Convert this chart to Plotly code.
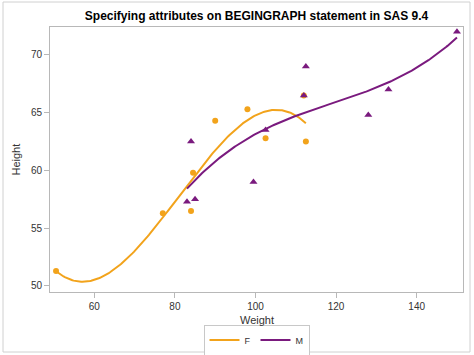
import numpy as np
import plotly.graph_objects as go

# SASHELP.CLASS data
f_weight = [84.0, 98.0, 102.5, 84.5, 112.5, 50.5, 90.0, 77.0, 112.0]
f_height = [56.5, 65.3, 62.8, 59.8, 62.5, 51.3, 64.3, 56.3, 66.5]
m_weight = [112.5, 102.5, 83.0, 84.0, 99.5, 150.0, 128.0, 133.0, 85.0, 112.0]
m_height = [69.0, 63.5, 57.3, 62.5, 59.0, 72.0, 64.8, 67.0, 57.5, 66.5]

x_ticks = [60, 80, 100, 120, 140]
y_ticks = [50, 55, 60, 65, 70]

ORANGE = "#F2A31B"
PURPLE = "#7A1A7E"


def cubic_fit(x, y):
    coef = np.polyfit(x, y, 3)
    xs = np.linspace(min(x), max(x), 200)
    return xs, np.polyval(coef, xs)


fig = go.Figure()

fx, fy = cubic_fit(f_weight, f_height)
mx, my = cubic_fit(m_weight, m_height)

fig.add_trace(go.Scatter(x=fx, y=fy, mode="lines", name="F",
                         line=dict(color=ORANGE, width=2)))
fig.add_trace(go.Scatter(x=mx, y=my, mode="lines", name="M",
                         line=dict(color=PURPLE, width=2)))
fig.add_trace(go.Scatter(x=f_weight, y=f_height, mode="markers", showlegend=False,
                         marker=dict(symbol="circle", size=6, color=ORANGE)))
fig.add_trace(go.Scatter(x=m_weight, y=m_height, mode="markers", showlegend=False,
                         marker=dict(symbol="triangle-up", size=7, color=PURPLE)))

axis_common = dict(showgrid=False, zeroline=False, showline=True, mirror=True,
                   linecolor="#B8B8B8", linewidth=1, ticks="outside", ticklen=5,
                   tickcolor="#B8B8B8", tickfont=dict(size=10, color="#333333"))

fig.update_xaxes(range=[49, 151.5], tickvals=x_ticks, automargin=False, **axis_common)
fig.update_yaxes(range=[49.48, 72.42], tickvals=y_ticks, automargin=False, **axis_common)

fig.add_annotation(text="Weight", xref="paper", yref="paper", x=0.5, y=-28 / 265,
                   xanchor="center", yanchor="middle", showarrow=False,
                   font=dict(size=11, color="#333333"))
fig.add_annotation(text="Height", xref="paper", yref="paper", x=-35 / 413, y=0.5,
                   xanchor="center", yanchor="middle", showarrow=False, textangle=-90,
                   font=dict(size=11, color="#333333"))

fig.add_shape(type="rect", xref="paper", yref="paper",
              x0=-47 / 413, x1=1 + 7 / 413, y0=-60 / 265, y1=1 + 25 / 265,
              line=dict(color="#D0D0D0", width=1), fillcolor="rgba(0,0,0,0)", layer="below")

fig.update_layout(
    width=474, height=355,
    margin=dict(l=50, r=11, t=27, b=63),
    paper_bgcolor="white", plot_bgcolor="white",
    font=dict(family="Liberation Sans, Arial, sans-serif", color="#333333"),
    title=dict(text="<b>Specifying attributes on BEGINGRAPH statement in SAS 9.4</b>",
               x=0.5, xref="paper", xanchor="center", y=1 - 16 / 355, yanchor="middle",
               font=dict(size=12, color="#000000")),
    legend=dict(orientation="h", x=0.5, xanchor="center", xref="paper",
                y=1 - 340 / 355, yanchor="middle", yref="container",
                bordercolor="#C8C8C8", borderwidth=1, bgcolor="white",
                font=dict(size=9, color="#333333"), itemwidth=30,
                tracegroupgap=0),
    showlegend=True,
)

fig.write_html("out.html", config={"displayModeBar": False},
               post_script="document.body.style.margin='0';document.body.style.overflow='hidden';")
